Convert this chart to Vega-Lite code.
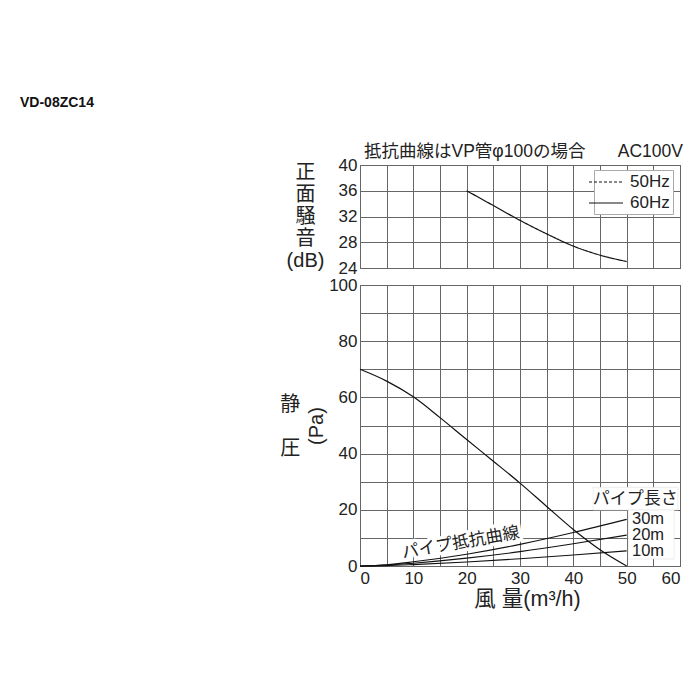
{
  "$schema": "https://vega.github.io/schema/vega-lite/v6.json",
  "background": "white",
  "padding": {"left": 19, "top": 95, "right": 5, "bottom": 5},
  "spacing": 17,
  "bounds": "flush",
  "config": {
    "view": {"stroke": "#555", "strokeWidth": 1},
    "axis": {"gridColor": "#666", "gridOpacity": 1, "gridWidth": 1, "domain": false, "ticks": false, "tickCount": 50, "format": "d", "labelFont": "Liberation Sans, Noto Sans CJK JP", "labelFontSize": 17, "labelColor": "#222", "titleFont": "Liberation Sans, Noto Sans CJK JP", "titleColor": "#222", "titleFontWeight": "normal", "labelOverlap": false},
    "text": {"font": "Liberation Sans, Noto Sans CJK JP", "color": "#222"}
  },
  "datasets": {
    "noise": [
      {"flow": 20, "db": 36.0, "freq": "60Hz"},
      {"flow": 25, "db": 33.7, "freq": "60Hz"},
      {"flow": 30, "db": 31.4, "freq": "60Hz"},
      {"flow": 35, "db": 29.3, "freq": "60Hz"},
      {"flow": 40, "db": 27.4, "freq": "60Hz"},
      {"flow": 45, "db": 26.0, "freq": "60Hz"},
      {"flow": 50, "db": 25.0, "freq": "60Hz"}
    ],
    "pressure": [
      {"flow": 0, "pa": 70},
      {"flow": 5, "pa": 65.8},
      {"flow": 10, "pa": 60.2},
      {"flow": 15, "pa": 52.8},
      {"flow": 20, "pa": 45.0},
      {"flow": 25, "pa": 37.3},
      {"flow": 30, "pa": 29.5},
      {"flow": 35, "pa": 21.2},
      {"flow": 40, "pa": 13.0},
      {"flow": 45, "pa": 5.8},
      {"flow": 50, "pa": 0}
    ],
    "pipe": [
      {"len": "10m", "flow": 0, "pa": 0},
      {"len": "10m", "flow": 5, "pa": 0.15},
      {"len": "10m", "flow": 10, "pa": 0.5},
      {"len": "10m", "flow": 20, "pa": 1.4},
      {"len": "10m", "flow": 30, "pa": 2.6},
      {"len": "10m", "flow": 40, "pa": 3.9},
      {"len": "10m", "flow": 50, "pa": 5.4},
      {"len": "20m", "flow": 0, "pa": 0},
      {"len": "20m", "flow": 5, "pa": 0.3},
      {"len": "20m", "flow": 10, "pa": 1.0},
      {"len": "20m", "flow": 20, "pa": 2.8},
      {"len": "20m", "flow": 30, "pa": 5.1},
      {"len": "20m", "flow": 40, "pa": 7.9},
      {"len": "20m", "flow": 50, "pa": 11.0},
      {"len": "30m", "flow": 0, "pa": 0},
      {"len": "30m", "flow": 5, "pa": 0.45},
      {"len": "30m", "flow": 10, "pa": 1.5},
      {"len": "30m", "flow": 20, "pa": 4.2},
      {"len": "30m", "flow": 30, "pa": 7.7},
      {"len": "30m", "flow": 40, "pa": 11.9},
      {"len": "30m", "flow": 50, "pa": 16.6}
    ],
    "pipeLabels": [
      {"len": "30m", "pa": 16.6},
      {"len": "20m", "pa": 11.0},
      {"len": "10m", "pa": 5.4}
    ]
  },
  "resolve": {"legend": {"strokeDash": "independent"}},
  "vconcat": [
    {
      "width": 320,
      "height": 103,
      "layer": [
        {
          "data": {"name": "noise"},
          "mark": {"type": "line", "color": "#111", "strokeWidth": 1.2, "interpolate": "monotone"},
          "encoding": {
            "x": {"field": "flow", "type": "quantitative", "scale": {"domain": [0, 60], "nice": false}, "axis": {"values": [0, 5, 10, 15, 20, 25, 30, 35, 40, 45, 50, 55, 60], "labels": false, "title": null, "grid": true}},
            "y": {"field": "db", "type": "quantitative", "scale": {"domain": [24, 40], "zero": false, "nice": false}, "axis": {"values": [24, 28, 32, 36, 40], "labelPadding": 3, "title": ["正", "面", "騒", "音", "(dB)"], "titleAngle": 0, "titleAlign": "center", "titleBaseline": "top", "titleX": -55, "titleY": -3, "titleFontSize": 20, "titleLineHeight": 22}},
            "strokeDash": {"field": "freq", "type": "nominal", "scale": {"domain": ["50Hz", "60Hz"], "range": [[3, 2], [1, 0]]}, "legend": {"title": null, "orient": "none", "legendX": 234, "legendY": 5, "symbolType": "M-2,0H2", "symbolSize": 289, "symbolStrokeWidth": 1, "symbolStrokeColor": "#111", "labelFontSize": 17, "labelFont": "Liberation Sans", "labelColor": "#222", "fillColor": "white", "strokeColor": "#aaa", "padding": 3, "rowPadding": 4, "labelOffset": 15}}
          }
        },
        {
          "data": {"values": [{}]},
          "mark": {"type": "text", "align": "left", "baseline": "middle", "fontSize": 14, "fontWeight": "bold", "font": "Liberation Sans", "color": "#111"},
          "encoding": {"x": {"datum": -63.75, "type": "quantitative"}, "y": {"datum": 49.63, "type": "quantitative"}, "text": {"value": "VD-08ZC14"}}
        },
        {
          "data": {"values": [{}]},
          "mark": {"type": "text", "align": "left", "baseline": "middle", "fontSize": 17.5},
          "encoding": {"x": {"datum": 0.75, "type": "quantitative"}, "y": {"datum": 42.02, "type": "quantitative"}, "text": {"value": "抵抗曲線はVP管φ100の場合"}}
        },
        {
          "data": {"values": [{}]},
          "mark": {"type": "text", "align": "right", "baseline": "middle", "fontSize": 17.5},
          "encoding": {"x": {"datum": 60.56, "type": "quantitative"}, "y": {"datum": 42.02, "type": "quantitative"}, "text": {"value": "AC100V"}}
        }
      ]
    },
    {
      "width": 320,
      "height": 281,
      "layer": [
        {
          "data": {"name": "pipe"},
          "mark": {"type": "line", "color": "#111", "strokeWidth": 1.1, "interpolate": "monotone"},
          "encoding": {
            "x": {"field": "flow", "type": "quantitative", "scale": {"domain": [0, 60], "nice": false}, "axis": {"values": [0, 5, 10, 15, 20, 25, 30, 35, 40, 45, 50, 55, 60], "labelExpr": "datum.value % 10 === 0 ? datum.label : ''", "labelPadding": 4, "title": "風 量(m³/h)", "titleFontSize": 21.5, "titlePadding": 2, "titleX": 167, "titleAlign": "center"}},
            "y": {"field": "pa", "type": "quantitative", "scale": {"domain": [0, 100], "nice": false}, "axis": {"values": [0, 10, 20, 30, 40, 50, 60, 70, 80, 90, 100], "labelExpr": "datum.value % 20 === 0 ? datum.label : ''", "labelPadding": 3, "title": "(Pa)", "titleFontSize": 20, "titlePadding": 2}},
            "detail": {"field": "len", "type": "nominal"}
          }
        },
        {
          "data": {"name": "pressure"},
          "mark": {"type": "line", "color": "#111", "strokeWidth": 1.2, "interpolate": "monotone"},
          "encoding": {
            "x": {"field": "flow", "type": "quantitative"},
            "y": {"field": "pa", "type": "quantitative"}
          }
        },
        {
          "data": {"values": [{}]},
          "mark": {"type": "rect", "color": "white", "stroke": "#ddd", "strokeWidth": 0.5},
          "encoding": {"x": {"datum": 43.7, "type": "quantitative"}, "x2": {"datum": 59.6}, "y": {"datum": 19.9, "type": "quantitative"}, "y2": {"datum": 28.0}}
        },
        {
          "data": {"values": [{}]},
          "mark": {"type": "rect", "color": "white", "stroke": "#ddd", "strokeWidth": 0.5},
          "encoding": {"x": {"datum": 50.3, "type": "quantitative"}, "x2": {"datum": 58.9}, "y": {"datum": 2.5, "type": "quantitative"}, "y2": {"datum": 19.9}}
        },
        {
          "data": {"name": "pipeLabels"},
          "mark": {"type": "text", "align": "left", "baseline": "middle", "fontSize": 16.5},
          "encoding": {"x": {"datum": 51, "type": "quantitative"}, "y": {"field": "pa", "type": "quantitative"}, "text": {"field": "len"}}
        },
        {
          "data": {"values": [{}]},
          "mark": {"type": "text", "align": "center", "baseline": "middle", "fontSize": 17},
          "encoding": {"x": {"datum": 51.6, "type": "quantitative"}, "y": {"datum": 23.8, "type": "quantitative"}, "text": {"value": "パイプ長さ"}}
        },
        {
          "data": {"values": [{}]},
          "mark": {"type": "text", "align": "center", "baseline": "middle", "fontSize": 17, "angle": 350, "stroke": "white", "strokeWidth": 7, "strokeJoin": "round", "fill": "white"},
          "encoding": {"x": {"datum": 18.9, "type": "quantitative"}, "y": {"datum": 8.2, "type": "quantitative"}, "text": {"value": "パイプ抵抗曲線"}}
        },
        {
          "data": {"values": [{}]},
          "mark": {"type": "text", "align": "center", "baseline": "middle", "fontSize": 17, "angle": 350},
          "encoding": {"x": {"datum": 18.9, "type": "quantitative"}, "y": {"datum": 8.2, "type": "quantitative"}, "text": {"value": "パイプ抵抗曲線"}}
        },
        {
          "data": {"values": [{}]},
          "mark": {"type": "text", "align": "center", "baseline": "middle", "fontSize": 20},
          "encoding": {"x": {"datum": -13.1, "type": "quantitative"}, "y": {"datum": 57.3, "type": "quantitative"}, "text": {"value": "静"}}
        },
        {
          "data": {"values": [{}]},
          "mark": {"type": "text", "align": "center", "baseline": "middle", "fontSize": 20},
          "encoding": {"x": {"datum": -13.1, "type": "quantitative"}, "y": {"datum": 41.6, "type": "quantitative"}, "text": {"value": "圧"}}
        }
      ]
    }
  ]
}
